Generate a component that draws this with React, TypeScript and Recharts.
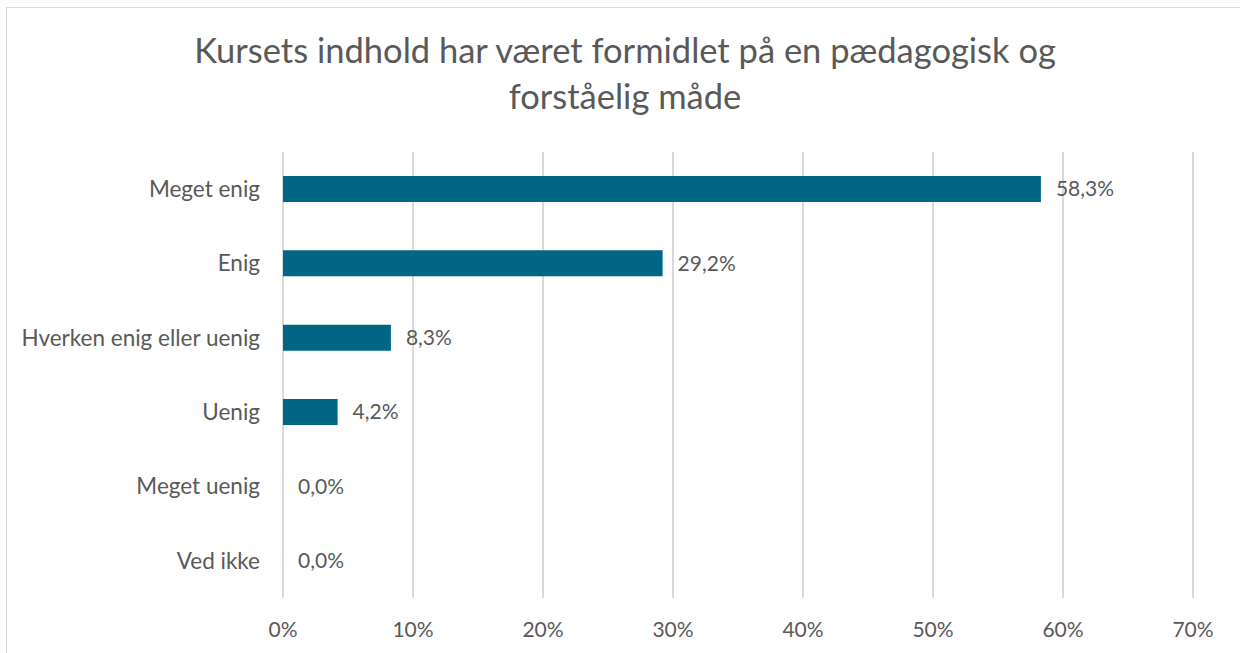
import { BarChart, Bar, XAxis, YAxis, CartesianGrid, LabelList } from 'recharts';

const categories = ['Meget enig', 'Enig', 'Hverken enig eller uenig', 'Uenig', 'Meget uenig', 'Ved ikke'];
const shares = [58.3, 29.2, 8.3, 4.2, 0, 0];
const xTicks = [0, 10, 20, 30, 40, 50, 60, 70];

const data = categories.map((name, i) => ({ name, value: shares[i] }));

const FONT = 'Lato, "Open Sans", sans-serif';
const TEXT = '#595959';

const App = () => {
  return (
    <div style={{ position: 'absolute', left: 0, top: 0, width: 1240, height: 653, background: '#fff', overflow: 'hidden', fontFamily: FONT }}>
      <div style={{ position: 'absolute', left: 6, top: 7, width: 1260, height: 680, border: '1px solid #d9d9d9' }} />
      <div style={{ position: 'absolute', left: 0, top: 27, width: 1250, textAlign: 'center', fontSize: 34.5, lineHeight: '46px', color: TEXT }}>
        Kursets indhold har været formidlet på en pædagogisk og
        <br />
        forståelig måde
      </div>
      <div style={{ position: 'absolute', left: 0, top: 0 }}>
        <BarChart
          width={1240}
          height={653}
          data={data}
          layout="vertical"
          margin={{ top: 152, right: 47, bottom: 0, left: 8 }}
          barSize={26}
        >
          <CartesianGrid horizontal={false} stroke="#d9d9d9" strokeWidth={2} />
          <XAxis
            type="number"
            domain={[0, 70]}
            ticks={xTicks}
            height={55}
            tickFormatter={(v: number) => `${v}%`}
            axisLine={false}
            tickLine={false}
            tickSize={0}
            tickMargin={24}
            tick={{ fill: TEXT, fontSize: 21, fontFamily: FONT }}
          />
          <YAxis
            type="category"
            dataKey="name"
            width={275}
            axisLine={false}
            tickLine={false}
            tickSize={0}
            tickMargin={23}
            tick={{ fill: TEXT, fontSize: 22.5, fontFamily: FONT }}
          />
          <Bar dataKey="value" fill="#006685" minPointSize={0.01} isAnimationActive={false}>
            <LabelList
              dataKey="value"
              position="right"
              offset={15}
              formatter={(v: number) => `${v.toFixed(1).replace('.', ',')}%`}
              style={{ fill: TEXT, fontSize: 21, fontFamily: FONT }}
            />
          </Bar>
        </BarChart>
      </div>
    </div>
  );
};

export default App;
